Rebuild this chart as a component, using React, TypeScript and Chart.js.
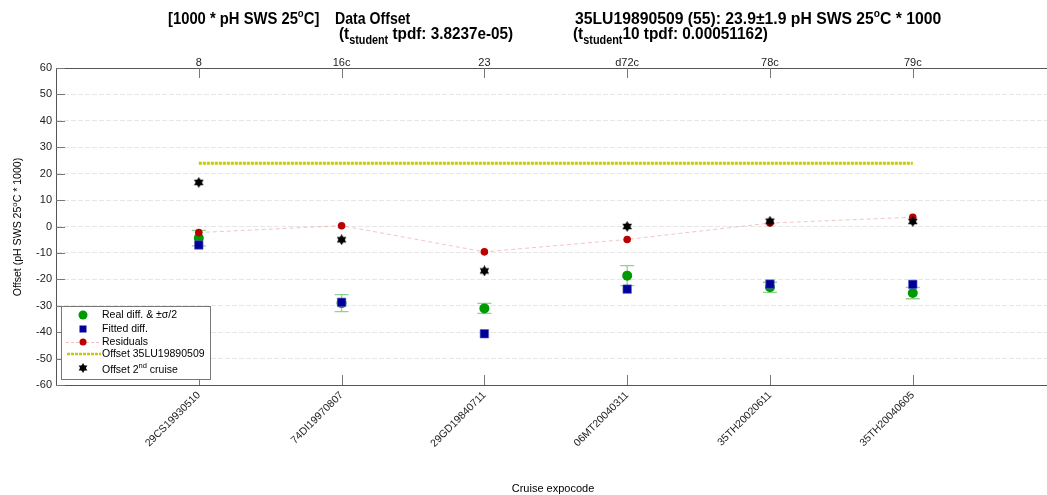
import React, { useEffect, useRef } from "react";
import { Chart, registerables } from "chart.js";

Chart.register(...registerables);

// ---- data ----
const cruises = ["29CS19930510", "74DI19970807", "29GD19840711", "06MT20040311", "35TH20020611", "35TH20040605"];
const stations = ["8", "16c", "23", "d72c", "78c", "79c"];
const realDiff = [-4.4, -29.0, -31.0, -18.6, -23.0, -25.2];
const halfSigma = [2.9, 3.2, 1.9, 3.8, 1.9, 2.15];
const fittedDiff = [-7.0, -28.7, -40.6, -23.7, -21.8, -21.9];
const residuals = [-2.3, 0.3, -9.6, -4.9, 1.3, 3.5];
const offset2nd = [16.7, -5.0, -16.8, 0.0, 2.0, 1.9];
const offsetRef = 23.9;
const yTicks = [-60, -50, -40, -30, -20, -10, 0, 10, 20, 30, 40, 50, 60];
const xMax = 6.94;

const FONT = "'Liberation Sans', Arial, Helvetica, sans-serif";

function makeStar(size: number): HTMLCanvasElement {
  const c = document.createElement("canvas");
  c.width = size;
  c.height = size;
  const g = c.getContext("2d")!;
  drawHexagram(g, size / 2, size / 2, size / 2);
  return c;
}

function drawHexagram(g: CanvasRenderingContext2D, cx: number, cy: number, r: number) {
  g.fillStyle = "#000";
  for (let k = 0; k < 2; k++) {
    g.beginPath();
    for (let i = 0; i < 3; i++) {
      const a = -Math.PI / 2 + k * Math.PI + (i * 2 * Math.PI) / 3;
      const x = cx + r * Math.cos(a);
      const y = cy + r * Math.sin(a);
      if (i === 0) g.moveTo(x, y);
      else g.lineTo(x, y);
    }
    g.closePath();
    g.fill();
  }
}

type Run = { t: string; f: string; dy?: number };
function drawRuns(ctx: CanvasRenderingContext2D, x: number, y: number, runs: Run[], sx = 1) {
  ctx.save();
  ctx.translate(x, y);
  ctx.scale(sx, 1);
  let cx = 0;
  ctx.textAlign = "left";
  ctx.textBaseline = "alphabetic";
  for (const r of runs) {
    ctx.font = r.f;
    ctx.fillText(r.t, cx, r.dy || 0);
    cx += ctx.measureText(r.t).width;
  }
  ctx.restore();
  return cx * sx;
}

const decorPlugin = {
  id: "decor",
  beforeDatasetsDraw(chart: any) {
    const { ctx } = chart;
    const xs = chart.scales.x;
    const ys = chart.scales.y;
    ctx.save();
    ctx.strokeStyle = "rgba(0,160,0,0.45)";
    ctx.lineWidth = 1.3;
    realDiff.forEach((v, i) => {
      const px = xs.getPixelForValue(i + 1);
      const top = ys.getPixelForValue(v + halfSigma[i]);
      const bot = ys.getPixelForValue(v - halfSigma[i]);
      ctx.beginPath();
      ctx.moveTo(px, top);
      ctx.lineTo(px, bot);
      ctx.moveTo(px - 7, top);
      ctx.lineTo(px + 7, top);
      ctx.moveTo(px - 7, bot);
      ctx.lineTo(px + 7, bot);
      ctx.stroke();
    });
    ctx.restore();
  },
  afterDraw(chart: any) {
    const { ctx, chartArea } = chart;
    const xs = chart.scales.x;
    const ys = chart.scales.y;
    ctx.save();
    // inner tick marks
    ctx.strokeStyle = "#777";
    ctx.lineWidth = 1;
    ctx.beginPath();
    cruises.forEach((_, i) => {
      const px = Math.round(xs.getPixelForValue(i + 1)) + 0.5;
      ctx.moveTo(px, chartArea.bottom);
      ctx.lineTo(px, chartArea.bottom - 10);
      ctx.moveTo(px, chartArea.top);
      ctx.lineTo(px, chartArea.top + 10);
    });
    yTicks.forEach((v) => {
      const py = Math.round(ys.getPixelForValue(v)) + 0.5;
      ctx.moveTo(chartArea.left, py);
      ctx.lineTo(chartArea.left + 9, py);
    });
    ctx.stroke();

    // titles
    ctx.fillStyle = "#000";
    const b15 = `bold 17px ${FONT}`;
    const b10 = `bold 11px ${FONT}`;
    const b11 = `bold 12px ${FONT}`;
    drawRuns(ctx, 168, 24, [
      { t: "[1000 * pH SWS 25", f: b15 },
      { t: "o", f: b10, dy: -7 },
      { t: "C]", f: b15 },
    ], 0.87);
    drawRuns(ctx, 335, 24, [{ t: "Data Offset", f: b15 }], 0.83);
    drawRuns(ctx, 339, 39, [
      { t: "(t", f: b15 },
      { t: "student", f: b11, dy: 5 },
      { t: " tpdf: 3.8237e-05)", f: b15 },
    ], 0.9);
    drawRuns(ctx, 575, 24, [
      { t: "35LU19890509 (55): 23.9\u00b11.9 pH SWS 25", f: b15 },
      { t: "o", f: b10, dy: -7 },
      { t: "C * 1000", f: b15 },
    ], 0.925);
    drawRuns(ctx, 573, 39, [
      { t: "(t", f: b15 },
      { t: "student", f: b11, dy: 5 },
      { t: "10 tpdf: 0.00051162)", f: b15 },
    ], 0.905);

    // y axis title
    ctx.save();
    ctx.translate(21, 227);
    ctx.rotate(-Math.PI / 2);
    const n11 = `11px ${FONT}`;
    const n8 = `8px ${FONT}`;
    const parts: Run[] = [
      { t: "Offset (pH SWS 25", f: n11 },
      { t: "o", f: n8, dy: -4 },
      { t: "C * 1000)", f: n11 },
    ];
    let w = 0;
    parts.forEach((p) => {
      ctx.font = p.f;
      w += ctx.measureText(p.t).width;
    });
    drawRuns(ctx, (-w * 0.96) / 2, 0, parts, 0.96);
    ctx.restore();

    // x axis title
    ctx.font = n11;
    ctx.textAlign = "center";
    ctx.fillText("Cruise expocode", 553, 492);

    // legend
    const lx = 61, ly = 306, lw = 149, lh = 73;
    ctx.fillStyle = "#fff";
    ctx.fillRect(lx, ly, lw, lh);
    ctx.strokeStyle = "#777";
    ctx.lineWidth = 1;
    ctx.strokeRect(lx + 0.5, ly + 0.5, lw, lh);
    const mx = 83, tx = 102;
    const rows = [315, 329, 342, 354, 369];
    ctx.fillStyle = "#009900";
    ctx.beginPath();
    ctx.arc(mx, rows[0], 4.5, 0, Math.PI * 2);
    ctx.fill();
    ctx.fillStyle = "#000099";
    ctx.fillRect(mx - 3.5, rows[1] - 3.5, 7, 7);
    ctx.strokeStyle = "rgba(230,150,150,0.6)";
    ctx.setLineDash([3, 2]);
    ctx.beginPath();
    ctx.moveTo(66, rows[2] + 0.5);
    ctx.lineTo(99, rows[2] + 0.5);
    ctx.stroke();
    ctx.setLineDash([]);
    ctx.fillStyle = "#bb0000";
    ctx.beginPath();
    ctx.arc(mx, rows[2], 3.5, 0, Math.PI * 2);
    ctx.fill();
    ctx.strokeStyle = "#c8c800";
    ctx.lineWidth = 2.5;
    ctx.setLineDash([3, 1]);
    ctx.beginPath();
    ctx.moveTo(67, rows[3]);
    ctx.lineTo(101, rows[3]);
    ctx.stroke();
    ctx.setLineDash([]);
    drawHexagram(ctx, mx, rows[4] - 1, 5);
    ctx.fillStyle = "#000";
    const l11 = `10.5px ${FONT}`;
    const l8 = `7.5px ${FONT}`;
    ctx.textBaseline = "middle";
    ctx.textAlign = "left";
    ctx.font = l11;
    ctx.fillText("Real diff. & \u00b1\u03c3/2", tx, rows[0]);
    ctx.fillText("Fitted diff.", tx, rows[1]);
    ctx.fillText("Residuals", tx, rows[2]);
    ctx.fillText("Offset 35LU19890509", tx, rows[3]);
    drawRuns(ctx, tx, rows[4] + 4, [
      { t: "Offset 2", f: l11 },
      { t: "nd", f: l8, dy: -5 },
      { t: " cruise", f: l11 },
    ]);
    ctx.restore();
  },
};

export default function App() {
  const ref = useRef<HTMLCanvasElement>(null);
  useEffect(() => {
    if (!ref.current) return;
    const star = makeStar(11);
    const pts = (arr: number[]) => arr.map((y, i) => ({ x: i + 1, y }));
    const tickFont = { family: FONT, size: 11 };
    const noPad = (s: any) => {
      s.paddingLeft = 0;
      s.paddingRight = 0;
    };
    const chart = new Chart(ref.current, {
      type: "scatter",
      data: {
        datasets: [
          {
            label: "Offset 2nd cruise",
            data: pts(offset2nd),
            pointStyle: star as any,
            pointRadius: 6,
            order: 0,
          },
          {
            type: "line",
            label: "Residuals",
            data: pts(residuals),
            borderColor: "rgba(230,150,150,0.55)",
            borderWidth: 1,
            borderDash: [4, 3],
            pointBackgroundColor: "#bb0000",
            pointBorderWidth: 0,
            pointRadius: 3.8,
            showLine: true,
            order: 1,
          } as any,
          {
            label: "Fitted diff.",
            data: pts(fittedDiff),
            pointStyle: "rect",
            pointRadius: 6,
            pointBackgroundColor: "#000099",
            pointBorderColor: "rgba(90,90,200,0.6)",
            pointBorderWidth: 1,
            order: 2,
          },
          {
            label: "Real diff.",
            data: pts(realDiff),
            pointRadius: 5,
            pointBackgroundColor: "#009900",
            pointBorderWidth: 0,
            order: 3,
          },
          {
            type: "line",
            label: "Offset 35LU19890509",
            data: [
              { x: 1, y: offsetRef },
              { x: cruises.length, y: offsetRef },
            ],
            borderColor: "#c8c800",
            borderWidth: 3,
            borderDash: [3, 1],
            pointRadius: 0,
            showLine: true,
            order: 4,
          } as any,
        ],
      },
      options: {
        animation: false,
        responsive: true,
        maintainAspectRatio: false,
        layout: { padding: 0 },
        plugins: { legend: { display: false }, tooltip: { enabled: false }, title: { display: false } },
        scales: {
          x: {
            type: "linear",
            position: "bottom",
            min: 0,
            max: xMax,
            afterBuildTicks: (s: any) => {
              s.ticks = cruises.map((_, i) => ({ value: i + 1 }));
            },
            afterFit: (s: any) => {
              s.height = 110;
              noPad(s);
            },
            ticks: {
              callback: (v: any) => cruises[Number(v) - 1] ?? "",
              minRotation: 45,
              maxRotation: 45,
              autoSkip: false,
              font: { family: FONT, size: 10.5 },
              color: "#222",
              padding: 4,
            },
            grid: { display: false, drawTicks: false },
            border: { display: true, color: "#555" },
          },
          x2: {
            type: "linear",
            position: "top",
            min: 0,
            max: xMax,
            afterBuildTicks: (s: any) => {
              s.ticks = stations.map((_, i) => ({ value: i + 1 }));
            },
            afterFit: (s: any) => {
              s.height = 68;
              noPad(s);
            },
            ticks: {
              callback: (v: any) => stations[Number(v) - 1] ?? "",
              maxRotation: 0,
              autoSkip: false,
              font: tickFont,
              color: "#222",
              padding: -2,
            },
            grid: { display: false, drawTicks: false },
            border: { display: true, color: "#555" },
          },
          y: {
            min: -60,
            max: 60,
            afterBuildTicks: (s: any) => {
              s.ticks = yTicks.map((v) => ({ value: v }));
            },
            afterFit: (s: any) => {
              s.width = 56;
            },
            ticks: { font: tickFont, color: "#222", padding: 4 },
            grid: { color: "#e6e6e6", drawTicks: false },
            border: { display: true, color: "#555", dash: [5, 2] },
          },
        },
      } as any,
      plugins: [decorPlugin],
    });
    return () => chart.destroy();
  }, []);
  return (
    <div style={{ position: "fixed", left: 0, top: 0, width: 1047, height: 495, overflow: "hidden", background: "#fff" }}>
      <div style={{ position: "absolute", left: 0, top: 0, width: 1054, height: 495 }}>
        <canvas ref={ref} />
      </div>
    </div>
  );
}
